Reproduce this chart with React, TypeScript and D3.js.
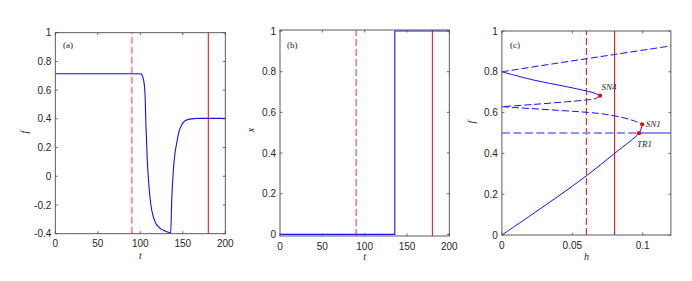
import React from "react";
import * as d3 from "d3";

// ---------- data ----------
// Panel (a): f(t)
const tA = [0, 100, 101, 102, 103, 104.4, 105.5, 106.7, 108.2, 109.4, 112.2, 115.3, 118, 121.2, 125, 129, 132, 135, 135.7, 137, 138.9, 140.8, 142.8, 145.5, 148.7, 151.5, 154.6, 158, 164.4, 170, 200];
const fA = [0.714, 0.714, 0.712, 0.705, 0.69, 0.652, 0.578, 0.345, 0.113, -0.003, -0.188, -0.282, -0.325, -0.351, -0.37, -0.381, -0.388, -0.393, -0.397, -0.165, 0.044, 0.16, 0.23, 0.31, 0.357, 0.38, 0.392, 0.398, 0.402, 0.403, 0.403];

// Panel (b): x(t)
const tB = [0, 135.6, 135.6, 200];
const xB = [0, 0, 1, 1];

// Vertical markers
const markerT = [90, 180]; // dashed, solid
const markerH = [0.06, 0.08]; // dashed, solid

// Panel (c): bifurcation branches f(h)
const hUpperUnstable = [0, 0.04, 0.08, 0.12];
const fUpperUnstable = [0.8, 0.843, 0.885, 0.927];
const hUpperStable = [0, 0.0223, 0.046, 0.06, 0.066, 0.0697];
const fUpperStable = [0.8, 0.76, 0.727, 0.706, 0.695, 0.683];
const hMidUnstableA = [0.0697, 0.066, 0.06, 0.046, 0.0223, 0];
const fMidUnstableA = [0.683, 0.668, 0.662, 0.653, 0.64, 0.629];
const hMidUnstableB = [0, 0.02, 0.04, 0.0555, 0.07, 0.0791, 0.088, 0.094, 0.0996];
const fMidUnstableB = [0.629, 0.62, 0.611, 0.604, 0.595, 0.585, 0.572, 0.559, 0.543];
const hLowerStable = [0, 0.02, 0.04, 0.06, 0.08, 0.0974, 0.0987, 0.0994, 0.0996];
const fLowerStable = [0, 0.094, 0.19, 0.29, 0.4, 0.499, 0.518, 0.532, 0.543];
const hTrivDashed = [0, 0.0974];
const hTrivSolid = [0.0974, 0.12];
const fTriv = 0.5;

const pointNames = ["SN4", "SN1", "TR1"];
const pointH = [0.0697, 0.0996, 0.0974];
const pointF = [0.683, 0.543, 0.499];

const ticksT = [0, 50, 100, 150, 200];
const ticksFA = [-0.4, -0.2, 0, 0.2, 0.4, 0.6, 0.8, 1];
const ticksUnit = [0, 0.2, 0.4, 0.6, 0.8, 1];
const ticksH = [0, 0.05, 0.1];

// ---------- helpers ----------
const zip = (a: number[], b: number[]) => a.map((v, i) => [v, b[i]] as [number, number]);
const fmt = (v: number) => {
  const s = String(Math.round(v * 1000) / 1000);
  return s;
};

const SANS = "'Liberation Sans', Arial, Helvetica, sans-serif";
const SERIF = "'Liberation Serif', 'Times New Roman', serif";
const AXIS_COLOR = "#4a4a4a";
const TEXT_COLOR = "#262626";
const BLUE = "#1010ff";
const RED = "#ff0000";

type Sc = d3.ScaleLinear<number, number>;

function Axes({ x, y, xt, yt, tickLen = 2.5 }: { x: Sc; y: Sc; xt: number[]; yt: number[]; tickLen?: number }) {
  const [x0, x1] = x.range();
  const [y0, y1] = y.range(); // y0 bottom, y1 top
  return (
    <g>
      {xt.map((v) => (
        <g key={"x" + v}>
          <line x1={x(v)} x2={x(v)} y1={y0} y2={y0 - tickLen} stroke={AXIS_COLOR} strokeWidth={0.8} />
          <line x1={x(v)} x2={x(v)} y1={y1} y2={y1 + tickLen} stroke={AXIS_COLOR} strokeWidth={0.8} />
          <text x={x(v)} y={y0 + 13.5} textAnchor="middle" fontFamily={SANS} fontSize={10} fill={TEXT_COLOR}>
            {fmt(v)}
          </text>
        </g>
      ))}
      {yt.map((v) => (
        <g key={"y" + v}>
          <line x1={x0} x2={x0 + tickLen} y1={y(v)} y2={y(v)} stroke={AXIS_COLOR} strokeWidth={0.8} />
          <line x1={x1} x2={x1 - tickLen} y1={y(v)} y2={y(v)} stroke={AXIS_COLOR} strokeWidth={0.8} />
          <text x={x0 - 4} y={y(v) + 3.6} textAnchor="end" fontFamily={SANS} fontSize={10} fill={TEXT_COLOR}>
            {fmt(v)}
          </text>
        </g>
      ))}
      <rect x={x0} y={y1} width={x1 - x0} height={y0 - y1} fill="none" stroke={AXIS_COLOR} strokeWidth={0.9} />
    </g>
  );
}

export default function App() {
  // Panel a
  const xa = d3.scaleLinear().domain([0, 200]).range([55.3, 225.3]);
  const ya = d3.scaleLinear().domain([-0.4, 1]).range([233.7, 32.7]);
  // Panel b
  const xb = d3.scaleLinear().domain([0, 200]).range([280, 449.3]);
  const yb = d3.scaleLinear().domain([-0.008, 1.005]).range([236, 30]);
  // Panel c
  const xc = d3.scaleLinear().domain([0, 0.12]).range([501.9, 670.9]);
  const yc = d3.scaleLinear().domain([0, 1]).range([235, 31]);

  const lineA = d3.line<[number, number]>().x((d) => xa(d[0])).y((d) => ya(d[1])).curve(d3.curveMonotoneX);
  const lineB = d3.line<[number, number]>().x((d) => xb(d[0])).y((d) => yb(d[1]));
  const lineC = d3.line<[number, number]>().x((d) => xc(d[0])).y((d) => yc(d[1])).curve(d3.curveCatmullRom);

  const dash = "7,3";

  return (
    <svg width={692} height={281} style={{ position: "absolute", left: 0, top: 0, background: "#fff" }}>
      {/* ---------- Panel (a) ---------- */}
      <g>
        <path d={lineA(zip(tA, fA)) || ""} fill="none" stroke={BLUE} strokeWidth={1.1} />
        <line x1={xa(markerT[0])} x2={xa(markerT[0])} y1={ya.range()[0]} y2={ya.range()[1]} stroke={RED} strokeOpacity={0.45} strokeWidth={1.8} strokeDasharray={dash} />
        <line x1={xa(markerT[1])} x2={xa(markerT[1])} y1={ya.range()[0]} y2={ya.range()[1]} stroke={RED} strokeWidth={1} />
        <Axes x={xa} y={ya} xt={ticksT} yt={ticksFA} />
        <text x={63} y={48} fontFamily={SERIF} fontSize={9} fill={TEXT_COLOR}>(a)</text>
        <text x={140.3} y={259} textAnchor="middle" fontFamily={SERIF} fontStyle="italic" fontSize={10} fill={TEXT_COLOR}>t</text>
        <text transform="translate(28,132) rotate(-90)" textAnchor="middle" fontFamily={SERIF} fontStyle="italic" fontSize={10} fill={TEXT_COLOR}>f</text>
      </g>

      {/* ---------- Panel (b) ---------- */}
      <g>
        <path d={lineB(zip(tB, xB)) || ""} fill="none" stroke={BLUE} strokeWidth={1.1} />
        <line x1={xb(markerT[0])} x2={xb(markerT[0])} y1={yb.range()[0]} y2={yb.range()[1]} stroke={RED} strokeOpacity={0.6} strokeWidth={1.4} strokeDasharray={dash} />
        <line x1={xb(markerT[1])} x2={xb(markerT[1])} y1={yb.range()[0]} y2={yb.range()[1]} stroke={RED} strokeWidth={1} />
        <Axes x={xb} y={yb} xt={ticksT} yt={ticksUnit} />
        <text x={287} y={48} fontFamily={SERIF} fontSize={9} fill={TEXT_COLOR}>(b)</text>
        <text x={364.6} y={260} textAnchor="middle" fontFamily={SERIF} fontStyle="italic" fontSize={10} fill={TEXT_COLOR}>t</text>
        <text transform="translate(254,130) rotate(-90)" textAnchor="middle" fontFamily={SERIF} fontStyle="italic" fontSize={10} fill={TEXT_COLOR}>x</text>
      </g>

      {/* ---------- Panel (c) ---------- */}
      <g>
        <line x1={xc(markerH[0])} x2={xc(markerH[0])} y1={yc.range()[0]} y2={yc.range()[1]} stroke={RED} strokeOpacity={0.9} strokeWidth={1.1} strokeDasharray={dash} />
        <line x1={xc(markerH[1])} x2={xc(markerH[1])} y1={yc.range()[0]} y2={yc.range()[1]} stroke={RED} strokeWidth={1} />
        {/* trivial branch f = 0.5 */}
        <line x1={xc(hTrivDashed[0])} x2={xc(hTrivDashed[1])} y1={yc(fTriv)} y2={yc(fTriv)} stroke="#8f8fff" strokeWidth={2} strokeDasharray="8,3.5" />
        <line x1={xc(hTrivSolid[0])} x2={xc(hTrivSolid[1])} y1={yc(fTriv)} y2={yc(fTriv)} stroke="#8f8fff" strokeWidth={2} />
        {/* branches */}
        <path d={lineC(zip(hUpperUnstable, fUpperUnstable)) || ""} fill="none" stroke={BLUE} strokeWidth={1} strokeDasharray={dash} />
        <path d={lineC(zip(hUpperStable, fUpperStable)) || ""} fill="none" stroke={BLUE} strokeWidth={1} />
        <path d={lineC(zip(hMidUnstableA, fMidUnstableA)) || ""} fill="none" stroke={BLUE} strokeWidth={1} strokeDasharray={dash} />
        <path d={lineC(zip(hMidUnstableB, fMidUnstableB)) || ""} fill="none" stroke={BLUE} strokeWidth={1} strokeDasharray={dash} />
        <path d={lineC(zip(hLowerStable, fLowerStable)) || ""} fill="none" stroke={BLUE} strokeWidth={1} />
        {pointNames.map((n, i) => (
          <circle key={n} cx={xc(pointH[i])} cy={yc(pointF[i])} r={2.1} fill={RED} />
        ))}
        <Axes x={xc} y={yc} xt={ticksH} yt={ticksUnit} />
        <text x={xc(pointH[0]) + 1.5} y={yc(pointF[0]) - 6} fontFamily={SERIF} fontStyle="italic" fontSize={9} fill={TEXT_COLOR}>{pointNames[0]}</text>
        <text x={xc(pointH[1]) + 3.5} y={yc(pointF[1]) + 3} fontFamily={SERIF} fontStyle="italic" fontSize={9} fill={TEXT_COLOR}>{pointNames[1]}</text>
        <text x={xc(pointH[2]) - 2} y={yc(pointF[2]) + 14} fontFamily={SERIF} fontStyle="italic" fontSize={9} fill={TEXT_COLOR}>{pointNames[2]}</text>
        <text x={510} y={48} fontFamily={SERIF} fontSize={9} fill={TEXT_COLOR}>(c)</text>
        <text x={586.4} y={260} textAnchor="middle" fontFamily={SERIF} fontStyle="italic" fontSize={10} fill={TEXT_COLOR}>h</text>
        <text transform="translate(475,122) rotate(-90)" textAnchor="middle" fontFamily={SERIF} fontStyle="italic" fontSize={10} fill={TEXT_COLOR}>f</text>
      </g>
    </svg>
  );
}
